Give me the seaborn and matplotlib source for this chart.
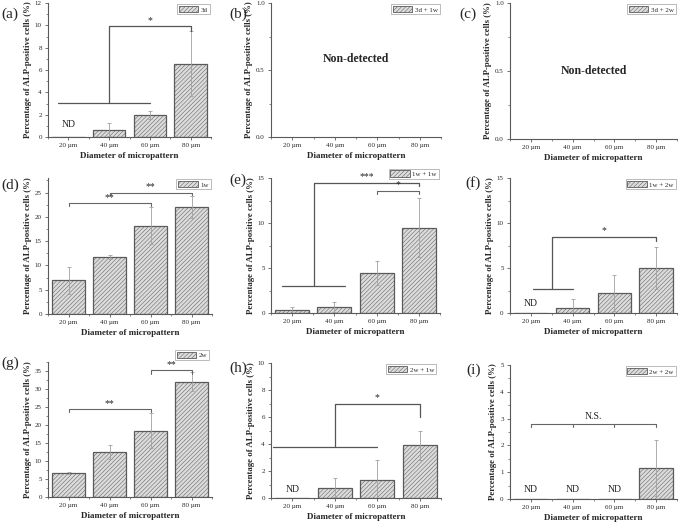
import numpy as np
import pandas as pd
import matplotlib
matplotlib.use("Agg")
import matplotlib.pyplot as plt
import seaborn as sns
from matplotlib.patches import Patch
from matplotlib.ticker import AutoMinorLocator, MultipleLocator

sns.set_style("ticks")
plt.rcParams["font.family"] = ["Liberation Serif", "DejaVu Serif"]
plt.rcParams["hatch.linewidth"] = 0.35
plt.rcParams["hatch.color"] = "#9a9a9a"

# data
cats = ["20 µm", "40 µm", "60 µm", "80 µm"]
labels = ["(a)", "(b)", "(c)", "(d)", "(e)", "(f)", "(g)", "(h)", "(i)"]
groups = ["3d", "3d + 1w", "3d + 2w", "1w", "1w + 1w", "1w + 2w", "2w", "2w + 1w", "2w + 2w"]
ylims = [12, 1, 1, 28, 15, 15, 37.5, 10, 5]
yticks = [2, 0.5, 0.5, 5, 5, 5, 5, 2, 1]

means = [
    [0, 0.65, 2.0, 6.55],
    [0, 0, 0, 0],
    [0, 0, 0, 0],
    [6.9, 11.8, 18.2, 22.0],
    [0.3, 0.65, 4.45, 9.5],
    [0, 0.6, 2.2, 5.0],
    [6.7, 12.5, 18.4, 32.0],
    [0, 0.75, 1.35, 3.9],
    [0, 0, 0, 1.15],
]
errs = [
    [np.nan, 0.6, 0.35, 2.9],
    [np.nan] * 4,
    [np.nan] * 4,
    [2.8, 0.4, 3.8, 2.3],
    [0.4, 0.55, 1.35, 3.3],
    [np.nan, 1.0, 2.0, 2.3],
    [0.2, 1.9, 4.8, 2.6],
    [np.nan, 0.7, 1.45, 1.05],
    [np.nan, np.nan, np.nan, 1.05],
]
# not-detected labels: (category index, y)
nd_marks = [
    [(0, 1.1)], [], [], [], [], [(0, 1.0)], [], [(0, 0.65)],
    [(0, 0.35), (1, 0.35), (2, 0.35)],
]
# simple brackets: (x1, x2, y, drop, text)
brackets = [
    [], [], [],
    [(0, 2, 22.8, 0.6, "**"), (1, 3, 25.0, 0.6, "**")],
    [(2, 3, 13.6, 0.4, "*")],
    [],
    [(0, 2, 24.4, 0.7, "**"), (2, 3, 35.2, 0.9, "**")],
    [],
    [],
]
# group-vs-one brackets: (xa, xb, y_low, x_up, x_target, y_high, drop, text)
group_brackets = [
    [(-0.25, 2.0, 3.05, 1.0, 3, 9.9, 0.4, "*")],
    [], [], [],
    [(-0.25, 1.25, 3.0, 0.52, 3, 14.45, 0.3, "***")],
    [(0.05, 1.0, 2.65, 0.5, 3, 8.45, 0.45, "*")],
    [],
    [(-0.45, 2.0, 3.78, 1.0, 3, 7.0, 1.0, "*")],
    [],
]

# figure-pixel layout [left, top, right, bottom]
rects_px = [
    (48, 3, 211, 137), (271, 3, 441, 137), (510, 3, 677, 139),
    (48, 178, 212, 314), (271, 178, 440, 313), (510, 178, 677, 313),
    (48, 362, 212, 497), (271, 363, 441, 498), (510, 365, 677, 499),
]
label_px = [(1, 14), (229, 14), (459, 14), (1, 185), (229, 180), (465, 183),
            (1, 363), (229, 368), (466, 370)]
legend_anchor = [(1.0, 1.0), (1.0, 1.0), (1.0, 1.0), (1.0, 1.0), (1.0, 1.08),
                 (1.0, 1.0), (0.99, 1.1), (0.98, 1.0), (1.0, 1.0)]

W, H = 685, 523
fig = plt.figure(figsize=(W / 100, H / 100), dpi=100)
edge = "#5a5a5a"
face = "#dcdcdc"
hatch = "////////"

for i in range(9):
    l, t, r, b = rects_px[i]
    ax = fig.add_axes([l / W, 1 - b / H, (r - l) / W, (b - t) / H])
    df = pd.DataFrame({"size": cats, "val": means[i]})
    empty = i in (1, 2)
    sns.barplot(data=df, x="size", y="val", order=cats, ax=ax, color=face,
                width=0.8, edgecolor=edge, linewidth=0 if empty else 0.9,
                errorbar=None, saturation=1)
    for p in ax.patches:
        p.set_hatch(hatch)
        p.set_facecolor(face)
    e = np.array(errs[i], dtype=float)
    ok = ~np.isnan(e)
    if ok.any():
        ax.errorbar(np.arange(4)[ok], np.array(means[i])[ok], yerr=e[ok], fmt="none",
                    ecolor="#a0a0a0", elinewidth=0.6, capsize=1.5, capthick=0.6)

    ax.set_xlim(-0.5, 3.5)
    ax.set_ylim(0, ylims[i])
    ax.yaxis.set_major_locator(MultipleLocator(yticks[i]))
    ax.yaxis.set_minor_locator(AutoMinorLocator(2))
    ax.set_xticks(np.arange(-0.5, 3.6, 1.0), minor=True)
    if empty:
        ax.yaxis.set_major_formatter(matplotlib.ticker.FormatStrFormatter("%.1f"))
    sns.despine(ax=ax)
    for s in ("left", "bottom"):
        ax.spines[s].set_color(edge)
        ax.spines[s].set_linewidth(0.8)
    ax.tick_params(which="major", length=2.5, width=0.6, color=edge, labelsize=5, pad=2)
    ax.tick_params(which="minor", length=1.5, width=0.5, color=edge)
    ax.set_xlabel("Diameter of micropattern", fontsize=6.5, fontweight="bold", labelpad=3)
    ax.set_ylabel("Percentage of ALP-positive cells (%)", fontsize=6.3, fontweight="bold", labelpad=2)

    ymax = ylims[i]
    for x1, x2, y, d, txt in brackets[i]:
        ax.plot([x1, x1, x2, x2], [y - d, y, y, y - d], color="#666666", lw=0.8)
        ax.text((x1 + x2) / 2, y + ymax * 0.01, txt, ha="center", va="bottom", fontsize=7)
    for xa, xb, yl, xu, xt, yh, d, txt in group_brackets[i]:
        ax.plot([xa, xb], [yl, yl], color="#555555", lw=0.9)
        ax.plot([xu, xu, xt, xt], [yl, yh, yh, yh - d], color="#555555", lw=0.9)
        ax.text((xu + xt) / 2, yh + ymax * 0.01, txt, ha="center", va="bottom", fontsize=7)
    if i == 8:
        ax.plot([0, 3], [2.8, 2.8], color="#666666", lw=0.8)
        for xx in range(4):
            ax.plot([xx, xx], [2.7, 2.8], color="#666666", lw=0.8)
        ax.text(1.5, 2.9, "N.S.", ha="center", va="bottom", fontsize=7)
    for xx, yy in nd_marks[i]:
        ax.text(xx, yy, "ND", ha="center", va="center", fontsize=7)
    if empty:
        ax.text(1.5, 0.58 if i == 1 else 0.5, "Non-detected", ha="center", va="center",
                fontsize=8.5, fontweight="bold")

    h = Patch(facecolor=face, edgecolor=edge, hatch=hatch, linewidth=0.6)
    leg = ax.legend([h], [groups[i]], loc="upper right", bbox_to_anchor=legend_anchor[i],
                    fontsize=5, frameon=True, fancybox=False, handlelength=2.8,
                    handleheight=1.0, borderpad=0.25, handletextpad=0.4, borderaxespad=0.2)
    leg.get_frame().set_edgecolor("#888888")
    leg.get_frame().set_linewidth(0.5)

    lx, ly = label_px[i]
    fig.text(lx / W, 1 - ly / H, labels[i], fontsize=11, ha="left", va="center")

fig.savefig("out.png", dpi=100)
